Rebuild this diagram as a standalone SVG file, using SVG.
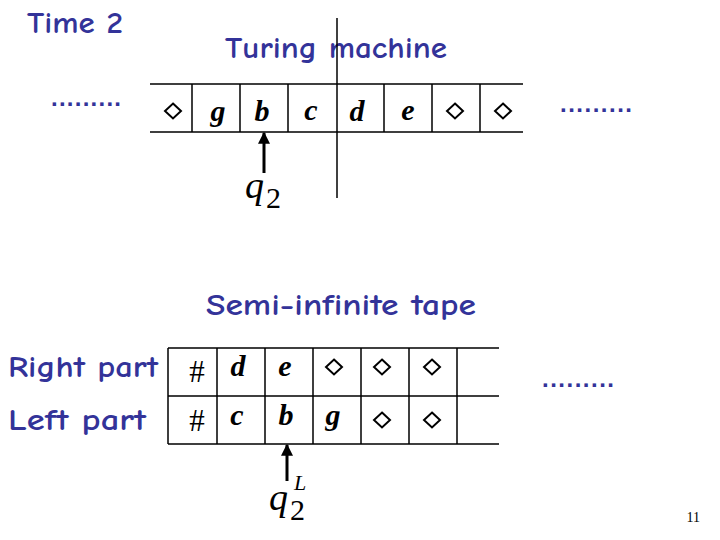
<svg xmlns="http://www.w3.org/2000/svg" width="720" height="540" viewBox="0 0 720 540">
<style>
.t{font-family:"Comic Neue","DejaVu Sans","Liberation Sans",sans-serif;fill:#333399;font-size:31px;font-weight:bold}
.dots{font-family:"Liberation Sans",sans-serif;fill:#333399;font-size:24px;font-weight:bold}
.s{font-family:"Liberation Serif",serif;font-style:italic;font-weight:bold;font-size:30px;fill:#000;text-anchor:middle}
.h{font-family:"Liberation Serif",serif;font-size:31px;fill:#000;text-anchor:middle}
.q{font-family:"Liberation Serif",serif;font-style:italic;font-size:38px}
.n{font-family:"Liberation Serif",serif;font-size:30px}
.dm{fill:none;stroke:#000;stroke-width:2}
.ln{stroke:#000;stroke-width:1.5;fill:none}
.ar{stroke:#000;stroke-width:3;fill:none}
</style>
<defs>
<polygon id="dia" class="dm" points="0,-7.5 8,0 0,7.5 -8,0"/>
<marker id="ah" viewBox="0 0 10 10" refX="9" refY="5" markerWidth="4" markerHeight="4" orient="auto"><path d="M0,0 L10,5 L0,10 z" fill="#000"/></marker>
</defs>
<g id="labels">
<text class="t" x="27" y="33" textLength="96" lengthAdjust="spacingAndGlyphs">Time 2</text>
<text class="t" x="225" y="58" textLength="222" lengthAdjust="spacingAndGlyphs">Turing machine</text>
<text class="t" x="206" y="315" textLength="270" lengthAdjust="spacingAndGlyphs">Semi-infinite tape</text>
<text class="t" x="8" y="377" textLength="150" lengthAdjust="spacingAndGlyphs">Right part</text>
<text class="t" x="8" y="430" textLength="138" lengthAdjust="spacingAndGlyphs">Left part</text>
<text class="dots" x="51" y="106" textLength="70" lengthAdjust="spacing">.........</text>
<text class="dots" x="560" y="112" textLength="72" lengthAdjust="spacing">.........</text>
<text class="dots" x="542" y="387" textLength="72" lengthAdjust="spacing">.........</text>
<text x="700" y="522" text-anchor="end" style="font-family:'Liberation Serif',serif;font-size:14px">11</text>
</g>
<g id="top-tape">
<path class="ln" d="M150,84 H523 M150,132 H523 M192,84 V132 M240,84 V132 M288,84 V132 M384,84 V132 M432,84 V132 M480,84 V132"/>
<path class="ln" d="M337,18 V198"/>
<use href="#dia" x="173" y="111"/>
<text class="s" x="218" y="121">g</text>
<text class="s" x="262" y="121">b</text>
<text class="s" x="311" y="120">c</text>
<text class="s" x="357" y="121">d</text>
<text class="s" x="408" y="120">e</text>
<use href="#dia" x="455" y="111"/>
<use href="#dia" x="503" y="111"/>
</g>
<g id="head-top">
<text class="q" x="245" y="198">q</text>
<text class="n" x="266" y="208">2</text>
</g>
<g id="bottom-tape">
<path class="ln" d="M168,348 H499 M168,396 H499 M168,444 H499 M168,348 V444 M217,348 V444 M265,348 V444 M313,348 V444 M361,348 V444 M409,348 V444 M457,348 V444"/>
<text class="h" x="197" y="382">#</text>
<text class="s" x="238" y="376">d</text>
<text class="s" x="285" y="376">e</text>
<use href="#dia" x="334" y="367"/>
<use href="#dia" x="382" y="367"/>
<use href="#dia" x="432" y="367"/>
<text class="h" x="197" y="431">#</text>
<text class="s" x="237" y="425">c</text>
<text class="s" x="286" y="425">b</text>
<text class="s" x="333" y="425">g</text>
<use href="#dia" x="382" y="420"/>
<use href="#dia" x="432" y="420"/>
</g>
<g id="head-bottom">
<text class="q" x="269" y="510">q</text>
<text class="n" x="290" y="520">2</text>
<text x="294" y="490" style="font-family:'Liberation Serif',serif;font-style:italic;font-size:22px">L</text>
</g>
<g id="connectors">
<line class="ar" x1="264" y1="173" x2="264" y2="133" marker-end="url(#ah)"/>
<line class="ar" x1="287" y1="481" x2="287" y2="445" marker-end="url(#ah)"/>
</g>
</svg>
